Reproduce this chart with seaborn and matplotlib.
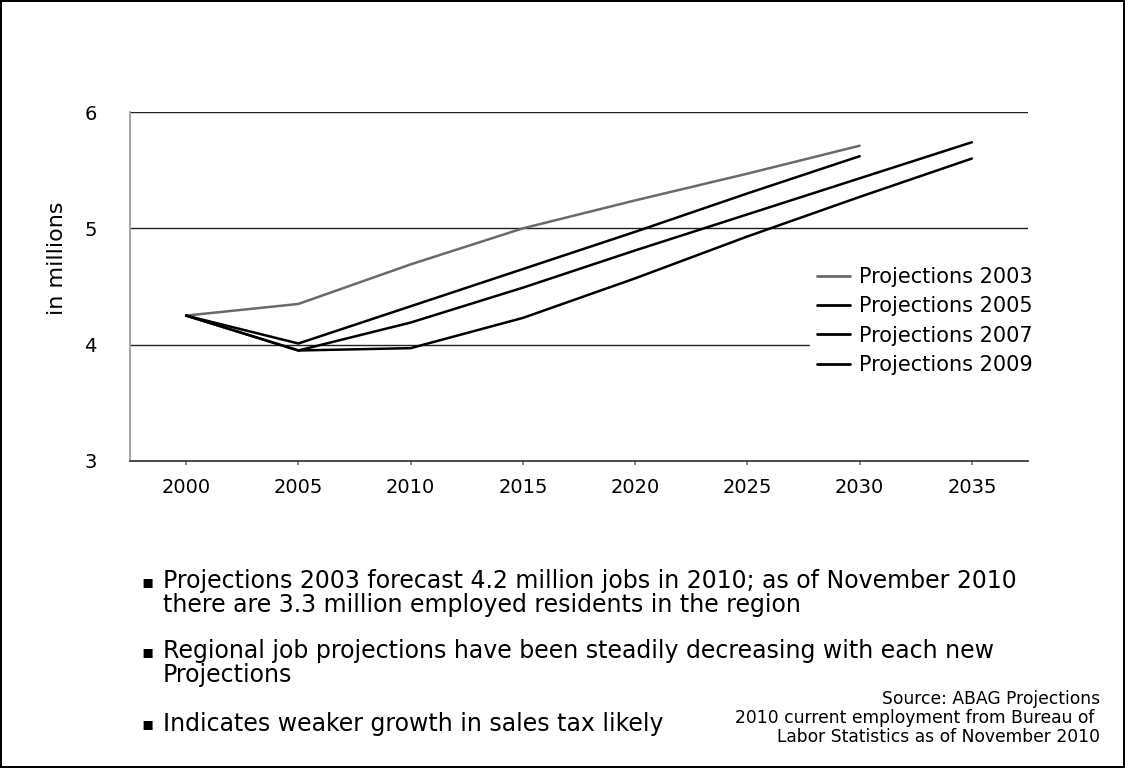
import matplotlib
matplotlib.use("Agg")
import matplotlib.pyplot as plt
import seaborn as sns
import pandas as pd

years = [2000, 2005, 2010, 2015, 2020, 2025, 2030, 2035]
series_names = ["Projections 2003", "Projections 2005", "Projections 2007", "Projections 2009"]
proj_2003 = [4.25, 4.35, 4.69, 5.00, 5.24, 5.47, 5.71, None]
proj_2005 = [4.25, 4.01, 4.33, 4.65, 4.97, 5.30, 5.62, None]
proj_2007 = [4.25, 3.95, 4.19, 4.49, 4.81, 5.12, 5.43, 5.74]
proj_2009 = [4.25, 3.95, 3.97, 4.23, 4.57, 4.93, 5.27, 5.60]

rows = []
for name, vals in zip(series_names, [proj_2003, proj_2005, proj_2007, proj_2009]):
    for y, v in zip(years, vals):
        if v is not None:
            rows.append({"year": y, "value": v, "series": name})
df = pd.DataFrame(rows)

sns.set_theme(style="white")
plt.rcParams["font.family"] = ["DejaVu Sans"]
plt.rcParams["text.color"] = "black"
plt.rcParams["xtick.color"] = "black"
plt.rcParams["ytick.color"] = "black"

fig = plt.figure(figsize=(11.25, 7.68), dpi=100, linewidth=1.5, edgecolor="black")
ax = fig.add_axes([130 / 1125, 307 / 768, 898 / 1125, 349 / 768])

palette = {"Projections 2003": "#6a6a6a", "Projections 2005": "black",
           "Projections 2007": "black", "Projections 2009": "black"}
sns.lineplot(data=df, x="year", y="value", hue="series", palette=palette,
             linewidth=1.8, ax=ax, legend=True)

ax.set_xlim(1997.5, 2037.5)
ax.set_ylim(3, 6)
ax.set_xticks(years)
ax.set_xticklabels([str(y) for y in years], fontsize=14)
ax.set_yticks([3, 4, 5, 6])
ax.set_yticklabels(["3", "4", "5", "6"], fontsize=14)
ax.set_xlabel("")
ax.set_ylabel("")
fig.text(57 / 1125, 1 - 258 / 768, "in millions", fontsize=16, rotation=90,
         ha="center", va="center")
for yv in [4, 5, 6]:
    ax.axhline(yv, color="#222222", linewidth=1, zorder=0)
for s in ["top", "right"]:
    ax.spines[s].set_visible(False)
ax.spines["left"].set_color("#999999")
ax.spines["left"].set_linestyle((0, (1, 1)))
ax.spines["bottom"].set_color("#333333")
ax.tick_params(axis="x", bottom=True, length=3, color="#777777", pad=9)
ax.tick_params(axis="y", left=False, pad=18)

leg = ax.legend(loc="center left", bbox_to_anchor=(800 / 1125, 1 - 321 / 768),
                bbox_transform=fig.transFigure, frameon=True,
                framealpha=1, edgecolor="white", fontsize=15, handlelength=1.6,
                handletextpad=0.45, labelspacing=0.45, borderpad=0.3)
for line in leg.get_lines():
    line.set_linewidth(2)
for t in leg.get_texts():
    t.set_color("black")

bullet_font = 17
fig.text(141 / 1125, 1 - 582 / 768, "▪", fontsize=13, va="center", ha="left")
fig.text(163 / 1125, 1 - 593 / 768,
         "Projections 2003 forecast 4.2 million jobs in 2010; as of November 2010\nthere are 3.3 million employed residents in the region",
         fontsize=bullet_font, va="center", ha="left", linespacing=0.95)
fig.text(141 / 1125, 1 - 652 / 768, "▪", fontsize=13, va="center", ha="left")
fig.text(163 / 1125, 1 - 663 / 768,
         "Regional job projections have been steadily decreasing with each new\nProjections",
         fontsize=bullet_font, va="center", ha="left", linespacing=0.95)
fig.text(141 / 1125, 1 - 724 / 768, "▪", fontsize=13, va="center", ha="left")
fig.text(163 / 1125, 1 - 724 / 768, "Indicates weaker growth in sales tax likely",
         fontsize=bullet_font, va="center", ha="left")

fig.text(1100 / 1125, 1 - 718 / 768,
         "Source: ABAG Projections\n2010 current employment from Bureau of \nLabor Statistics as of November 2010",
         fontsize=12.3, va="center", ha="right", multialignment="right", linespacing=1.05)

fig.savefig("out.png", dpi=100)
